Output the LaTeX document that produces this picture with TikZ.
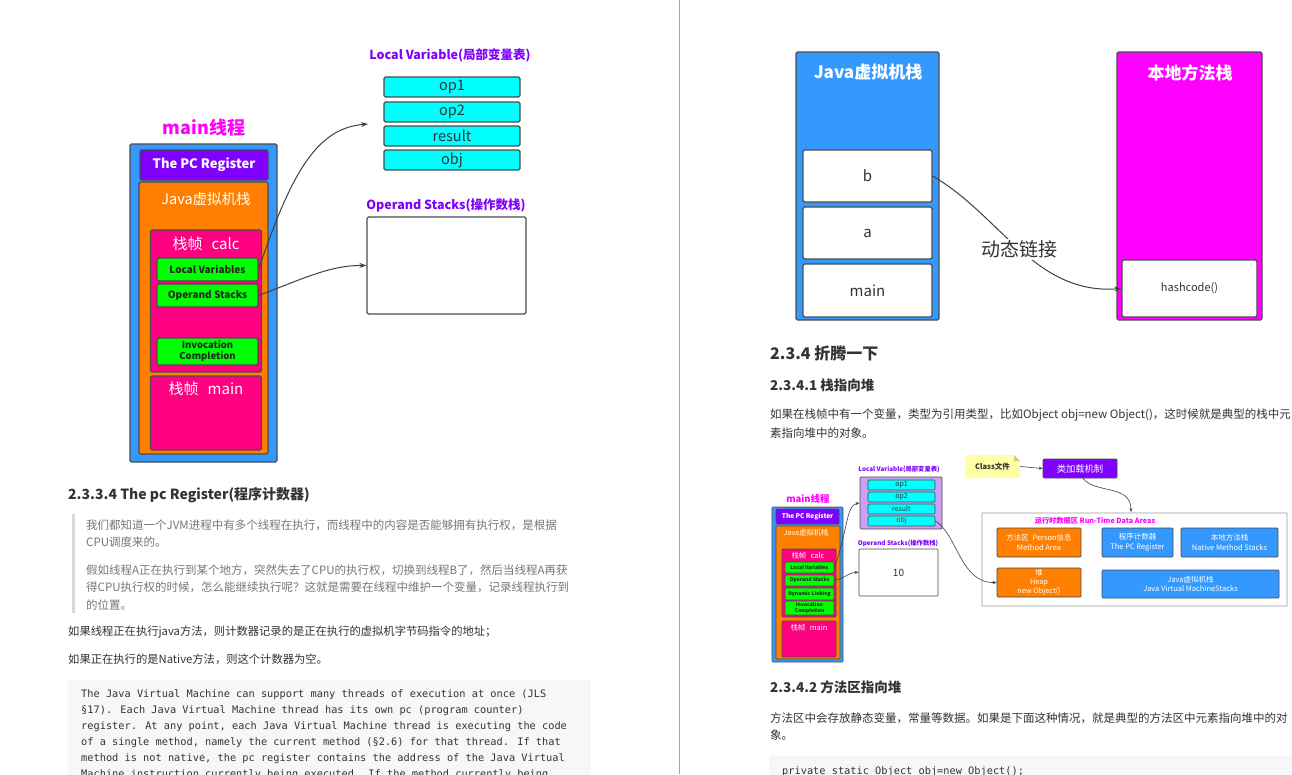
\documentclass[tikz,border=0pt]{standalone}
\usepackage{fontspec}
\setmainfont{Noto Sans CJK SC}
\newfontfamily\codefont{DejaVu Sans Mono}
\usetikzlibrary{arrows.meta}
\definecolor{jblue}{HTML}{3399FF}
\definecolor{jpurple}{HTML}{7F00FF}
\definecolor{jorange}{HTML}{FF8000}
\definecolor{jpink}{HTML}{FF0080}
\definecolor{jgreen}{HTML}{00FF00}
\definecolor{jcyan}{HTML}{00FFFF}
\definecolor{jmagenta}{HTML}{FF00FF}
\definecolor{jlav}{HTML}{C9A0F5}
\definecolor{noteyel}{HTML}{FFFFA6}
\definecolor{txtdark}{HTML}{333333}
\definecolor{txtquote}{HTML}{777777}
\definecolor{codebg}{HTML}{F7F7F7}
\newcommand\fsz[2]{\fontsize{#1}{#2}\selectfont}

\begin{document}
\begin{tikzpicture}[x=1pt, y=-1pt,
    box/.style={draw=black!70, line width=1.2pt, rounded corners=1.5pt, inner sep=0pt, align=center},
    sbox/.style={draw=black!70, line width=0.7pt, rounded corners=1pt, inner sep=0pt, align=center},
    lbl/.style={inner sep=0pt, align=center},
    para/.style={inner sep=0pt, anchor=west, text=txtdark},
    code/.style={inner sep=0pt, anchor=west, text=txtdark, font=\codefont\fsz{10.3}{12}},
    conn/.style={-{Stealth[length=7pt, width=5pt]}, draw=black!75, line width=1pt},
    sconn/.style={-{Stealth[length=4pt, width=3pt]}, draw=black!75, line width=0.6pt}]
  \useasboundingbox (0,0) rectangle (1292,774);
  \fill[white] (0,0) rectangle (1292,774);
  \draw[black!35, line width=1pt] (679,0) -- (679,774);

  % left page: main thread
  \node[lbl, text=jmagenta, font=\fsz{18}{20}\bfseries] (thrlbl) at (204,128) {main线程};
  \node[box, fill=jblue, minimum width=147pt, minimum height=318pt] (thread) at (203.5,303) {};
  \node[box, fill=jpurple, minimum width=128pt, minimum height=30pt, text=white, font=\fsz{13}{15}\bfseries] (pcr) at (204,165) {The PC Register};
  \node[box, fill=jorange, minimum width=129pt, minimum height=272pt] (jvms) at (203.5,318) {};
  \node[lbl, text=white, font=\fsz{14.5}{16}] (jvmslbl) at (206,199) {Java虚拟机栈};
  \node[box, fill=jpink, minimum width=111pt, minimum height=142pt] (calc) at (206,301) {};
  \node[lbl, text=white, font=\fsz{15}{17}] (calclbl) at (206,244) {栈帧\hspace{0.6em}calc};
  \node[box, fill=jgreen, minimum width=101pt, minimum height=23pt, text=black!85, font=\fsz{10}{11}\bfseries] (lv) at (207.5,269.5) {Local Variables};
  \node[box, fill=jgreen, minimum width=101pt, minimum height=23pt, text=black!85, font=\fsz{10}{11}\bfseries] (os) at (207.5,295.5) {Operand Stacks};
  \node[box, fill=jgreen, minimum width=101pt, minimum height=27pt, text=black!85, font=\fsz{9.5}{11}\bfseries] (ic) at (207.5,351.5) {Invocation\\Completion};
  \node[box, fill=jpink, minimum width=111pt, minimum height=74pt] (mainfr) at (206,413) {};
  \node[lbl, text=white, font=\fsz{15}{17}] (mainlbl) at (206,389) {栈帧\hspace{0.6em}main};

  \node[lbl, text=jpurple, font=\fsz{12.5}{14}\bfseries] (lvtitle) at (450,55) {Local Variable(局部变量表)};
  \node[box, fill=jcyan, minimum width=136pt, minimum height=20pt, text=txtdark, font=\fsz{14.5}{16}] (op1) at (452,87) {op1};
  \node[box, fill=jcyan, minimum width=136pt, minimum height=20pt, text=txtdark, font=\fsz{14.5}{16}] (op2) at (452,112) {op2};
  \node[box, fill=jcyan, minimum width=136pt, minimum height=20pt, text=txtdark, font=\fsz{14.5}{16}] (res) at (452,136) {result};
  \node[box, fill=jcyan, minimum width=136pt, minimum height=20pt, text=txtdark, font=\fsz{14.5}{16}] (obj) at (452,160) {obj};
  \node[lbl, text=jpurple, font=\fsz{12.5}{14}\bfseries] (ostitle) at (446,205) {Operand Stacks(操作数栈)};
  \node[box, fill=white, minimum width=159pt, minimum height=97pt] (osbox) at (446.5,265.5) {};
  \coordinate (lvin) at (368,124);
  \draw[conn] (lv.east) .. controls (292,170) and (318,128) .. (lvin);
  \draw[conn] (os.east) .. controls (300,280) and (330,265) .. (osbox.west);

  % left page: text
  \node[para, font=\fsz{14}{16}\bfseries] (h2334) at (68,495) {2.3.3.4 The pc Register(程序计数器)};
  \fill[black!15] (72,514) rectangle (75,613);
  \node[para, text=txtquote, font=\fsz{11.5}{14}] (q1) at (86,525) {我们都知道一个JVM进程中有多个线程在执行，而线程中的内容是否能够拥有执行权，是根据};
  \node[para, text=txtquote, font=\fsz{11.5}{14}] (q2) at (86,542) {CPU调度来的。};
  \node[para, text=txtquote, font=\fsz{11.5}{14}] (q3) at (86,570) {假如线程A正在执行到某个地方，突然失去了CPU的执行权，切换到线程B了，然后当线程A再获};
  \node[para, text=txtquote, font=\fsz{11.5}{14}] (q4) at (86,587) {得CPU执行权的时候，怎么能继续执行呢？这就是需要在线程中维护一个变量，记录线程执行到};
  \node[para, text=txtquote, font=\fsz{11.5}{14}] (q5) at (86,605) {的位置。};
  \node[para, font=\fsz{11.3}{14}] (p1) at (68,632) {如果线程正在执行java方法，则计数器记录的是正在执行的虚拟机字节码指令的地址；};
  \node[para, font=\fsz{11.3}{14}] (p2) at (68,659) {如果正在执行的是Native方法，则这个计数器为空。};
  \filldraw[fill=codebg, draw=black!8, rounded corners=2pt] (69,681) rectangle (590,800);
  \node[code] (c1) at (81,695) {The Java Virtual Machine can support many threads of execution at once (JLS};
  \node[code] (c2) at (81,711) {§17). Each Java Virtual Machine thread has its own pc (program counter)};
  \node[code] (c3) at (81,727) {register. At any point, each Java Virtual Machine thread is executing the code};
  \node[code] (c4) at (81,743) {of a single method, namely the current method (§2.6) for that thread. If that};
  \node[code] (c5) at (81,759) {method is not native, the pc register contains the address of the Java Virtual};
  \node[code] (c6) at (81,775) {Machine instruction currently being executed. If the method currently being};

  % right page: dynamic linking
  \node[box, fill=jblue, minimum width=143pt, minimum height=268pt] (jstack) at (867.5,186) {};
  \node[lbl, text=white, font=\fsz{17}{19}\bfseries] (jstacklbl) at (868,72) {Java虚拟机栈};
  \node[box, fill=white, minimum width=129pt, minimum height=52pt, text=txtdark, font=\fsz{15}{17}] (fb) at (867.5,176) {b};
  \node[box, fill=white, minimum width=129pt, minimum height=52pt, text=txtdark, font=\fsz{15}{17}] (fa) at (867.5,233) {a};
  \node[box, fill=white, minimum width=129pt, minimum height=53pt, text=txtdark, font=\fsz{15}{17}] (fmain) at (867.5,290.5) {main};
  \node[box, fill=jmagenta, minimum width=145pt, minimum height=268pt] (nstack) at (1189.5,186) {};
  \node[lbl, text=white, font=\fsz{17}{19}\bfseries] (nstacklbl) at (1190,73) {本地方法栈};
  \node[box, fill=white, minimum width=135pt, minimum height=57pt, text=txtdark, font=\fsz{11}{13}] (hash) at (1189.5,288.5) {hashcode()};
  \draw[conn] (fb.east) .. controls (1000,215) and (1035,295) .. node[pos=0.5, fill=white, inner sep=2pt, text=txtdark, font=\fsz{19}{21}] (dyn) {动态链接} (hash.west);

  % right page: text
  \node[para, font=\fsz{16}{18}\bfseries] (h234) at (770,353) {2.3.4 折腾一下};
  \node[para, font=\fsz{13.5}{16}\bfseries] (h2341) at (770,385) {2.3.4.1 栈指向堆};
  \node[para, font=\fsz{11.5}{14}] (r1) at (770,415) {如果在栈帧中有一个变量，类型为引用类型，比如Object obj=new Object()，这时候就是典型的栈中元};
  \node[para, font=\fsz{11.5}{14}] (r2) at (770,433) {素指向堆中的对象。};

  % right page: small diagram
  \node[lbl, text=jmagenta, font=\fsz{9.5}{11}\bfseries] (sthrlbl) at (808,499) {main线程};
  \node[sbox, fill=jblue, minimum width=71pt, minimum height=155pt] (sthread) at (807.5,584.5) {};
  \node[sbox, fill=jpurple, minimum width=63pt, minimum height=15pt, text=white, font=\fsz{6.5}{8}\bfseries] (spcr) at (807.5,516.5) {The PC Register};
  \node[sbox, fill=jorange, minimum width=64pt, minimum height=133pt] (sjvms) at (808,592.5) {};
  \node[lbl, text=white, font=\fsz{7.3}{9}] (sjvmslbl) at (806,533) {Java虚拟机栈};
  \node[sbox, fill=jpink, minimum width=54pt, minimum height=68pt] (scalc) at (809,583) {};
  \node[lbl, text=white, font=\fsz{7.4}{9}] (scalclbl) at (808,556) {栈帧\hspace{0.6em}calc};
  \node[sbox, fill=jgreen, minimum width=49pt, minimum height=11pt, text=black!85, font=\fsz{5}{6}\bfseries] (slv) at (809.5,567.5) {Local Variables};
  \node[sbox, fill=jgreen, minimum width=49pt, minimum height=11pt, text=black!85, font=\fsz{5}{6}\bfseries] (sos) at (809.5,580.5) {Operand Stacks};
  \node[sbox, fill=jgreen, minimum width=49pt, minimum height=12pt, text=black!85, font=\fsz{5}{6}\bfseries] (sdl) at (809.5,594) {Dynamic Linking};
  \node[sbox, fill=jgreen, minimum width=49pt, minimum height=14pt, text=black!85, font=\fsz{5}{5.8}\bfseries] (sic) at (809.5,608) {Invocation\\Completion};
  \node[sbox, fill=jpink, minimum width=54pt, minimum height=36pt] (smainfr) at (809,639) {};
  \node[lbl, text=white, font=\fsz{7.4}{9}] (smainlbl) at (809,628) {栈帧\hspace{0.6em}main};

  \node[lbl, text=jpurple, font=\fsz{6.3}{8}\bfseries] (slvtitle) at (899,469) {Local Variable(局部变量表)};
  \node[sbox, fill=jlav, minimum width=82pt, minimum height=52pt] (slvbox) at (901,503) {};
  \node[sbox, fill=jcyan, minimum width=67pt, minimum height=10pt, text=txtdark, font=\fsz{7}{8}] (sop1) at (901.5,485) {op1};
  \node[sbox, fill=jcyan, minimum width=67pt, minimum height=10pt, text=txtdark, font=\fsz{7}{8}] (sop2) at (901.5,497) {op2};
  \node[sbox, fill=jcyan, minimum width=67pt, minimum height=10pt, text=txtdark, font=\fsz{7}{8}] (sres) at (901.5,509) {result};
  \node[sbox, fill=jcyan, minimum width=67pt, minimum height=10pt, text=red, font=\fsz{7}{8}] (sobj) at (901.5,521) {obj};
  \node[lbl, text=jpurple, font=\fsz{6.3}{8}\bfseries] (sostitle) at (898,543) {Operand Stacks(操作数栈)};
  \node[sbox, fill=white, minimum width=79pt, minimum height=47pt, text=txtdark, font=\fsz{10}{12}] (sosbox) at (898.5,572.5) {10};
  \draw[sconn] (slv.east) .. controls (848,530) and (846,505) .. (slvbox.west);
  \draw[sconn] (sos.east) .. controls (845,578) and (850,572) .. (sosbox.west);

  \fill[noteyel] (965,455) -- (1014,455) -- (1020,461) -- (1020,478) -- (965,478) -- cycle;
  \fill[noteyel!80!black] (1014,455) -- (1014,461) -- (1020,461) -- cycle;
  \node[lbl, minimum width=55pt, minimum height=23pt, text=txtdark, font=\fsz{7.5}{9}\bfseries] (note) at (992.5,466.5) {Class文件};
  \node[sbox, fill=jpurple, minimum width=74pt, minimum height=19pt, text=white, font=\fsz{9.3}{11}] (load) at (1080,468.5) {类加载机制};
  \draw[sconn] (note.east) -- (load.west);
  \node[sbox, draw=black!40, fill=white, rounded corners=0.5pt, minimum width=305pt, minimum height=93pt] (rt) at (1134.5,559.5) {};
  \node[lbl, text=jmagenta, font=\fsz{7.2}{9}\bfseries] (rtlbl) at (1095,521) {运行时数据区 Run-Time Data Areas};
  \coordinate (rtin) at (1131,512);
  \draw[sconn] ([xshift=3pt]load.south) .. controls (1095,494) and (1131,484) .. (rtin);
  \node[sbox, fill=jorange, minimum width=84pt, minimum height=29pt, text=white, font=\fsz{7.5}{9.5}] (marea) at (1039,542.5) {方法区\hspace{0.5em}Person信息\\Method Area};
  \node[sbox, fill=jblue, minimum width=71pt, minimum height=29pt, text=white, font=\fsz{7.5}{9.5}] (spc) at (1137.5,542.5) {程序计数器\\The PC Register};
  \node[sbox, fill=jblue, minimum width=97pt, minimum height=29pt, text=white, font=\fsz{7.5}{9.5}] (snms) at (1229.5,542.5) {本地方法栈\\Native Method Stacks};
  \node[sbox, fill=jorange, minimum width=84pt, minimum height=29pt, text=white, font=\fsz{7.3}{8.8}] (heap) at (1039,582.5) {堆\\Heap\\new Object()};
  \node[sbox, fill=jblue, minimum width=177pt, minimum height=28pt, text=white, font=\fsz{7.5}{9.5}] (sjvm) at (1190.5,584) {Java虚拟机栈\\Java Virtual MachineStacks};
  \draw[sconn] (sobj.east) .. controls (958,535) and (960,583) .. (heap.west);

  % right page: bottom text
  \node[para, font=\fsz{13.5}{16}\bfseries] (h2342) at (770,687) {2.3.4.2 方法区指向堆};
  \node[para, font=\fsz{11.5}{14}] (r3) at (770,718) {方法区中会存放静态变量，常量等数据。如果是下面这种情况，就是典型的方法区中元素指向堆中的对};
  \node[para, font=\fsz{11.5}{14}] (r4) at (770,735) {象。};
  \filldraw[fill=codebg, draw=black!8, rounded corners=2pt] (770,756) rectangle (1291,800);
  \node[code] (c7) at (782,772) {private static Object obj=new Object();};
\end{tikzpicture}
\end{document}
